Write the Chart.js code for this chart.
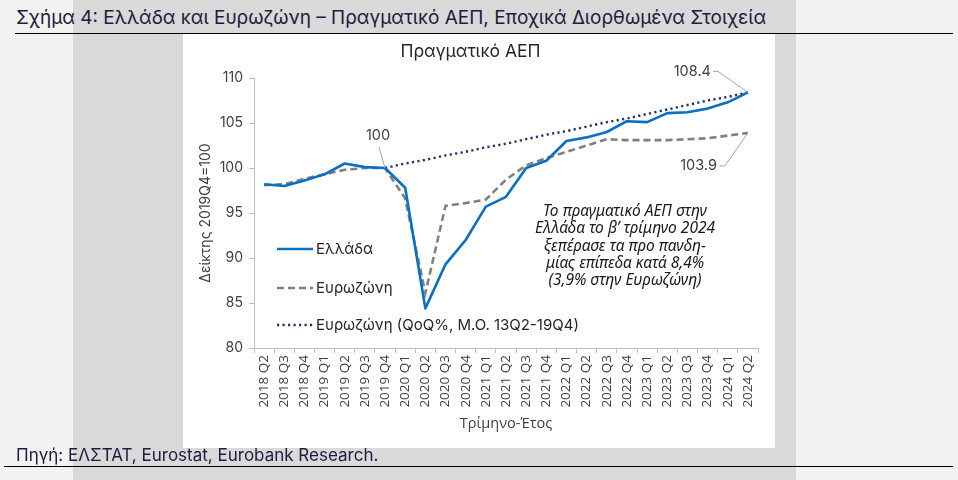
<!DOCTYPE html>
<html>
<head>
<meta charset="utf-8">
<script src="https://cdn.jsdelivr.net/npm/chart.js@4"></script>
<style>
  html, body { margin:0; padding:0; }
  body { width:958px; height:480px; position:relative; overflow:hidden; background:#f2f2f2; font-family:'Inter','Noto Sans',sans-serif; }
  #band { position:absolute; left:73px; top:0; width:723px; height:480px; background:#d9d9d9; }
  #box { position:absolute; left:183px; top:33px; width:592px; height:415px; background:#ffffff; }
  #title { position:absolute; left:16px; top:6px; font-size:19px; color:#1c1c3c; white-space:nowrap; letter-spacing:0px; }
  #line1 { position:absolute; left:15px; top:33px; width:938px; height:1px; background:#000; }
  #source { position:absolute; left:16px; top:445px; font-size:17px; color:#1c1c3c; white-space:nowrap; }
  #line2 { position:absolute; left:4px; top:466px; width:949px; height:1px; background:#000; }
  canvas { position:absolute; left:0; top:0; }
</style>
</head>
<body>
<div id="band"></div>
<div id="box"><canvas id="c" width="592" height="415"></canvas></div>
<div id="title">Σχήμα 4: Ελλάδα και Ευρωζώνη – Πραγματικό ΑΕΠ, Εποχικά Διορθωμένα Στοιχεία</div>
<div id="line1"></div>
<div id="source">Πηγή: ΕΛΣΤΑΤ, Eurostat, Eurobank Research.</div>
<div id="line2"></div>
<script>
const categories = ['2018 Q2','2018 Q3','2018 Q4','2019 Q1','2019 Q2','2019 Q3','2019 Q4','2020 Q1','2020 Q2','2020 Q3','2020 Q4','2021 Q1','2021 Q2','2021 Q3','2021 Q4','2022 Q1','2022 Q2','2022 Q3','2022 Q4','2023 Q1','2023 Q2','2023 Q3','2023 Q4','2024 Q1','2024 Q2'];
const greece   = [98.2, 98.0, 98.6, 99.3, 100.5, 100.1, 100.0, 97.8, 84.4, 89.3, 92.0, 95.7, 96.8, 100.0, 100.8, 103.0, 103.4, 104.0, 105.2, 105.1, 106.1, 106.2, 106.6, 107.3, 108.4];
const eurozone = [98.1, 98.2, 98.8, 99.3, 99.8, 100.0, 100.0, 96.6, 86.1, 95.8, 96.1, 96.5, 98.7, 100.3, 101.1, 101.8, 102.5, 103.2, 103.1, 103.1, 103.1, 103.2, 103.3, 103.6, 103.9];
const trend    = [null, null, null, null, null, null, 100.0, 100.5, 100.9, 101.4, 101.8, 102.3, 102.7, 103.2, 103.7, 104.1, 104.6, 105.1, 105.5, 106.0, 106.5, 107.0, 107.5, 107.9, 108.4];
const seriesLabels = ['Ελλάδα', 'Ευρωζώνη', 'Ευρωζώνη (QoQ%, Μ.Ο. 13Q2-19Q4)'];
const yTicks = { min: 80, max: 110, step: 5 };
const chartTitle = 'Πραγματικό ΑΕΠ';
const yTitle = 'Δείκτης 2019Q4=100';
const xTitle = 'Τρίμηνο-Έτος';
const noteLines = ['Το πραγματικό ΑΕΠ στην', 'Ελλάδα το β’ τρίμηνο 2024', 'ξεπέρασε τα προ πανδη-', 'μίας επίπεδα κατά 8,4%', '(3,9% στην Ευρωζώνη)'];
const pointLabels = [
  { series: 0, index: 6,  text: '100' },
  { series: 0, index: 24, text: '108.4' },
  { series: 1, index: 24, text: '103.9' }
];

const textColor = '#404040';
const axisColor = '#bfbfbf';

const overlay = {
  id: 'overlay',
  afterDraw(chart) {
    const ctx = chart.ctx;
    const ca = chart.chartArea;
    const x = chart.scales.x, y = chart.scales.y;
    ctx.save();
    // legend
    const legY = [249 - 33, 288 - 33, 325 - 33];
    chart.data.datasets.forEach((ds, i) => {
      const ly = legY[i];
      ctx.beginPath();
      ctx.strokeStyle = ds.borderColor;
      ctx.lineWidth = ds.borderWidth;
      ctx.lineCap = ds.borderCapStyle || 'butt';
      ctx.setLineDash(ds.borderDash || []);
      ctx.moveTo(ca.left + 23, ly);
      ctx.lineTo(ca.left + 59, ly);
      ctx.stroke();
      ctx.setLineDash([]);
      ctx.fillStyle = '#262626';
      ctx.font = '15px Inter, "Noto Sans", sans-serif';
      ctx.textAlign = 'left';
      ctx.textBaseline = 'middle';
      ctx.fillText(ds.label, ca.left + 62, ly);
    });
    // point labels with leader lines
    ctx.font = '14.5px Inter, "Noto Sans", sans-serif';
    ctx.fillStyle = textColor;
    ctx.strokeStyle = '#a6a6a6';
    ctx.lineWidth = 1;
    const data = chart.data.datasets;
    pointLabels.forEach((pl, k) => {
      const px = x.getPixelForValue(pl.index);
      const py = y.getPixelForValue(data[pl.series].data[pl.index]);
      ctx.beginPath();
      if (k === 0) {
        ctx.moveTo(px - 6, py - 21);
        ctx.lineTo(px, py);
        ctx.stroke();
        ctx.textAlign = 'center'; ctx.textBaseline = 'middle';
        ctx.fillText(pl.text, px - 7, py - 32);
      } else if (k === 1) {
        ctx.moveTo(px - 35, py - 21);
        ctx.lineTo(px - 30, py - 21);
        ctx.lineTo(px, py);
        ctx.stroke();
        ctx.textAlign = 'right'; ctx.textBaseline = 'middle';
        ctx.fillText(pl.text, px - 37, py - 21);
      } else {
        ctx.moveTo(px - 28, py + 33);
        ctx.lineTo(px - 23, py + 33);
        ctx.lineTo(px, py);
        ctx.stroke();
        ctx.textAlign = 'right'; ctx.textBaseline = 'middle';
        ctx.fillText(pl.text, px - 31, py + 33);
      }
    });
    // note text
    ctx.font = 'italic 15.5px "Noto Sans", Inter, sans-serif';
    ctx.fillStyle = '#1a1a1a';
    ctx.textAlign = 'center';
    ctx.textBaseline = 'middle';
    const noteY = [212, 229, 247, 264, 281];
    noteLines.forEach((t, i) => ctx.fillText(t, 625 - 183, noteY[i] - 33));
    ctx.restore();
  }
};

new Chart(document.getElementById('c'), {
  type: 'line',
  data: {
    labels: categories,
    datasets: [
      { label: seriesLabels[0], data: greece, borderColor: '#0a6fc2', borderWidth: 2.6, pointRadius: 0, tension: 0, borderJoinStyle: 'round' },
      { label: seriesLabels[1], data: eurozone, borderColor: '#808080', borderWidth: 2.6, borderDash: [7, 4], pointRadius: 0, tension: 0 },
      { label: seriesLabels[2], data: trend, borderColor: '#1f3470', borderWidth: 2.4, borderDash: [2.2, 3.3], pointRadius: 0, tension: 0 }
    ]
  },
  options: {
    responsive: false,
    animation: false,
    devicePixelRatio: 1,
    layout: { padding: { left: 0, right: 17, top: 0, bottom: 0 } },
    plugins: {
      legend: { display: false },
      tooltip: { enabled: false },
      title: { display: true, text: chartTitle, color: '#262626', font: { size: 17.5, family: 'Inter, "Noto Sans", sans-serif', weight: 'normal' }, lineHeight: 1.2, padding: { top: 8, bottom: 16 } }
    },
    scales: {
      x: {
        type: 'category',
        offset: true,
        grid: { display: true, offset: true, drawOnChartArea: false, drawTicks: true, tickLength: 5, color: axisColor },
        border: { display: true, color: axisColor, width: 1 },
        ticks: { autoSkip: false, minRotation: 90, maxRotation: 90, color: textColor, font: { size: 13.5, family: '"Open Sans", "Noto Sans", sans-serif' }, padding: 2 },
        title: { display: true, text: xTitle, color: textColor, font: { size: 14.5, family: '"Open Sans", "Noto Sans", sans-serif' }, padding: { top: 0, bottom: 15 } },
        afterFit(s) { s.height = 100; }
      },
      y: {
        min: yTicks.min, max: yTicks.max,
        grid: { display: true, drawOnChartArea: false, drawTicks: true, tickLength: 5, color: axisColor },
        border: { display: true, color: axisColor, width: 1 },
        ticks: { stepSize: yTicks.step, color: textColor, font: { size: 14, family: 'Inter, "Noto Sans", sans-serif' }, padding: 6 },
        title: { display: true, text: yTitle, color: textColor, font: { size: 14, family: 'Inter, "Noto Sans", sans-serif' }, padding: { top: 14, bottom: 0 } },
        afterFit(s) { s.width = 71; }
      }
    }
  },
  plugins: [overlay]
});
</script>
</body>
</html>
